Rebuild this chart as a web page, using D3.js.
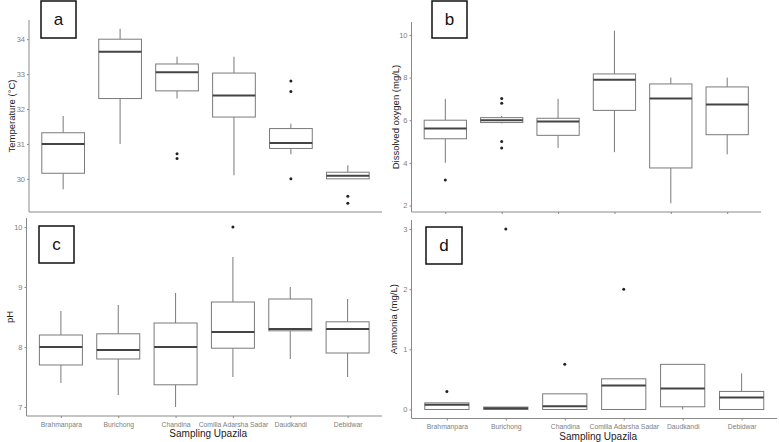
<!DOCTYPE html>
<html>
<head>
<meta charset="utf-8">
<script src="https://cdn.jsdelivr.net/npm/d3@7"></script>
<style>
  body { margin: 0; background: #fff; }
  svg { display: block; font-family: "Liberation Sans", Arial, sans-serif; }
</style>
</head>
<body>
<script>
var categories = ["Brahmanpara", "Burichong", "Chandina", "Comilla Adarsha Sadar", "Daudkandi", "Debidwar"];

// [lower whisker, Q1, median, Q3, upper whisker]
var tempStats = [
  [29.7, 30.16, 31.0, 31.32, 31.8],
  [31.0, 32.3, 33.64, 34.0, 34.3],
  [32.3, 32.52, 33.05, 33.29, 33.5],
  [30.1, 31.77, 32.39, 33.03, 33.5],
  [30.7, 30.87, 31.03, 31.44, 31.58],
  [30.0, 30.0, 30.09, 30.19, 30.39]
];
var tempOutliers = [[], [], [30.72, 30.58], [], [32.8, 32.5, 30.0], [29.5, 29.3]];

var doStats = [
  [4.0, 5.13, 5.61, 6.0, 7.0],
  [5.85, 5.89, 6.0, 6.12, 6.2],
  [4.7, 5.29, 5.94, 6.09, 7.0],
  [4.5, 6.46, 7.9, 8.17, 10.2],
  [2.1, 3.76, 7.02, 7.7, 8.0],
  [4.4, 5.32, 6.74, 7.56, 8.0]
];
var doOutliers = [[3.2], [7.02, 6.8, 5.0, 4.7], [], [], [], []];

var phStats = [
  [7.4, 7.7, 8.0, 8.2, 8.6],
  [7.2, 7.8, 7.95, 8.22, 8.7],
  [7.0, 7.37, 8.0, 8.4, 8.9],
  [7.5, 7.98, 8.25, 8.75, 9.5],
  [7.8, 8.27, 8.3, 8.8, 9.0],
  [7.5, 7.9, 8.3, 8.42, 8.8]
];
var phOutliers = [[], [], [], [10.0], [], []];

var nh3Stats = [
  [0.0, 0.0, 0.08, 0.11, 0.11],
  [0.0, 0.0, 0.02, 0.04, 0.04],
  [0.0, 0.0, 0.055, 0.26, 0.26],
  [0.0, 0.0, 0.4, 0.51, 0.51],
  [0.0, 0.045, 0.35, 0.75, 0.75],
  [0.0, 0.0, 0.2, 0.3, 0.6]
];
var nh3Outliers = [[0.3], [3.0], [0.75], [2.0], [], []];

var tempTicks = [30, 31, 32, 33, 34];
var doTicks = [2, 4, 6, 8, 10];
var phTicks = [7, 8, 9, 10];
var nh3Ticks = [0, 1, 2, 3];

var width = 779, height = 442;

var svg = d3.select("body").append("svg")
  .attr("width", width)
  .attr("height", height);

var panels = [
  { letter: "a", title: "Temperature (\u00B0C)", stats: tempStats, outliers: tempOutliers, ticks: tempTicks,
    left: 29, right: 382, top: 20, bottom: 212, xTicks: false, xLabels: false, titleX: 12,
    badge: { x: 41, y: 1, w: 35, h: 37 } },
  { letter: "b", title: "Dissolved oxygen (mg/L)", stats: doStats, outliers: doOutliers, ticks: doTicks,
    left: 411.5, right: 761, top: 22, bottom: 212, xTicks: true, xLabels: false, titleX: 396,
    badge: { x: 432, y: 1, w: 35, h: 37 } },
  { letter: "c", title: "pH", stats: phStats, outliers: phOutliers, ticks: phTicks,
    left: 26.5, right: 382, top: 218, bottom: 416, xTicks: true, xLabels: true, titleX: 10,
    badge: { x: 39, y: 226, w: 35, h: 37 } },
  { letter: "d", title: "Ammonia (mg/L)", stats: nh3Stats, outliers: nh3Outliers, ticks: nh3Ticks,
    left: 411.5, right: 777, top: 220, bottom: 418.5, xTicks: true, xLabels: true, titleX: 394,
    badge: { x: 426, y: 227, w: 36, h: 37 } }
];

panels.forEach(function(p) {
  var g = svg.append("g");

  // y range of the data, widened by 5% like ggplot
  var all = [];
  p.stats.forEach(function(s, i) { all = all.concat(s, p.outliers[i]); });
  var ext = d3.extent(all);
  var pad = (ext[1] - ext[0]) * 0.05;

  var y = d3.scaleLinear()
    .domain([ext[0] - pad, ext[1] + pad])
    .range([p.bottom, p.top]);

  var x = d3.scalePoint()
    .domain(categories)
    .range([p.left, p.right])
    .padding(0.6);

  var boxW = x.step() * 0.75;

  // axes
  var yAxis = g.append("g")
    .attr("transform", "translate(" + p.left + ",0)")
    .call(d3.axisLeft(y).tickValues(p.ticks).tickSize(2).tickPadding(2).tickFormat(d3.format("d")));
  yAxis.select(".domain").attr("stroke", "#8a8a8a").attr("d", "M0," + p.top + "V" + p.bottom);
  yAxis.selectAll(".tick line").attr("stroke", "#8a8a8a");
  yAxis.selectAll(".tick text").attr("fill", "#808080").style("font-size", "7.5px");

  var xAxis = g.append("g")
    .attr("transform", "translate(0," + p.bottom + ")")
    .call(d3.axisBottom(x).tickSize(p.xTicks ? 2 : 0).tickPadding(4));
  xAxis.select(".domain").attr("stroke", "#8a8a8a").attr("d", "M" + p.left + ",0H" + p.right);
  xAxis.selectAll(".tick line").attr("stroke", "#8a8a8a");
  xAxis.selectAll(".tick text")
    .attr("fill", "#808080")
    .style("font-size", "6.8px")
    .style("display", p.xLabels ? null : "none");

  // whiskers
  var boxes = g.selectAll(".box")
    .data(p.stats)
    .enter().append("g")
      .attr("class", "box");

  boxes.append("line")
    .attr("x1", function(d, i) { return x(categories[i]); })
    .attr("x2", function(d, i) { return x(categories[i]); })
    .attr("y1", function(d) { return y(d[3]); })
    .attr("y2", function(d) { return y(d[4]); })
    .attr("stroke", "#7a7a7a");

  boxes.append("line")
    .attr("x1", function(d, i) { return x(categories[i]); })
    .attr("x2", function(d, i) { return x(categories[i]); })
    .attr("y1", function(d) { return y(d[0]); })
    .attr("y2", function(d) { return y(d[1]); })
    .attr("stroke", "#7a7a7a");

  boxes.append("rect")
    .attr("x", function(d, i) { return x(categories[i]) - boxW / 2; })
    .attr("y", function(d) { return y(d[3]); })
    .attr("width", boxW)
    .attr("height", function(d) { return Math.max(0.5, y(d[1]) - y(d[3])); })
    .attr("fill", "#fff")
    .attr("stroke", "#7a7a7a")
    .attr("stroke-width", 1);

  boxes.append("line")
    .attr("x1", function(d, i) { return x(categories[i]) - boxW / 2; })
    .attr("x2", function(d, i) { return x(categories[i]) + boxW / 2; })
    .attr("y1", function(d) { return y(d[2]); })
    .attr("y2", function(d) { return y(d[2]); })
    .attr("stroke", "#444")
    .attr("stroke-width", 2);

  // outliers
  p.outliers.forEach(function(list, i) {
    g.selectAll(".out" + i)
      .data(list)
      .enter().append("circle")
        .attr("cx", x(categories[i]))
        .attr("cy", function(d) { return y(d); })
        .attr("r", 1.5)
        .attr("fill", "#222");
  });

  // axis titles
  g.append("text")
    .attr("transform", "translate(" + p.titleX + "," + ((p.top + p.bottom) / 2) + ") rotate(-90)")
    .attr("text-anchor", "middle")
    .attr("dy", "0.35em")
    .style("font-size", "9.5px")
    .attr("fill", "#222")
    .text(p.title);

  if (p.xLabels) {
    g.append("text")
      .attr("x", (p.left + p.right) / 2 + 4)
      .attr("y", p.bottom + 21)
      .attr("text-anchor", "middle")
      .style("font-size", "10px")
      .attr("fill", "#222")
      .text("Sampling Upazila");
  }

  // panel letter box
  g.append("rect")
    .attr("x", p.badge.x)
    .attr("y", p.badge.y)
    .attr("width", p.badge.w)
    .attr("height", p.badge.h)
    .attr("fill", "#fff")
    .attr("stroke", "#111")
    .attr("stroke-width", 1.5);

  g.append("text")
    .attr("x", p.badge.x + p.badge.w / 2)
    .attr("y", p.badge.y + p.badge.h / 2)
    .attr("dy", "0.35em")
    .attr("text-anchor", "middle")
    .style("font-size", "17px")
    .attr("fill", "#111")
    .text(p.letter);
});
</script>
</body>
</html>
